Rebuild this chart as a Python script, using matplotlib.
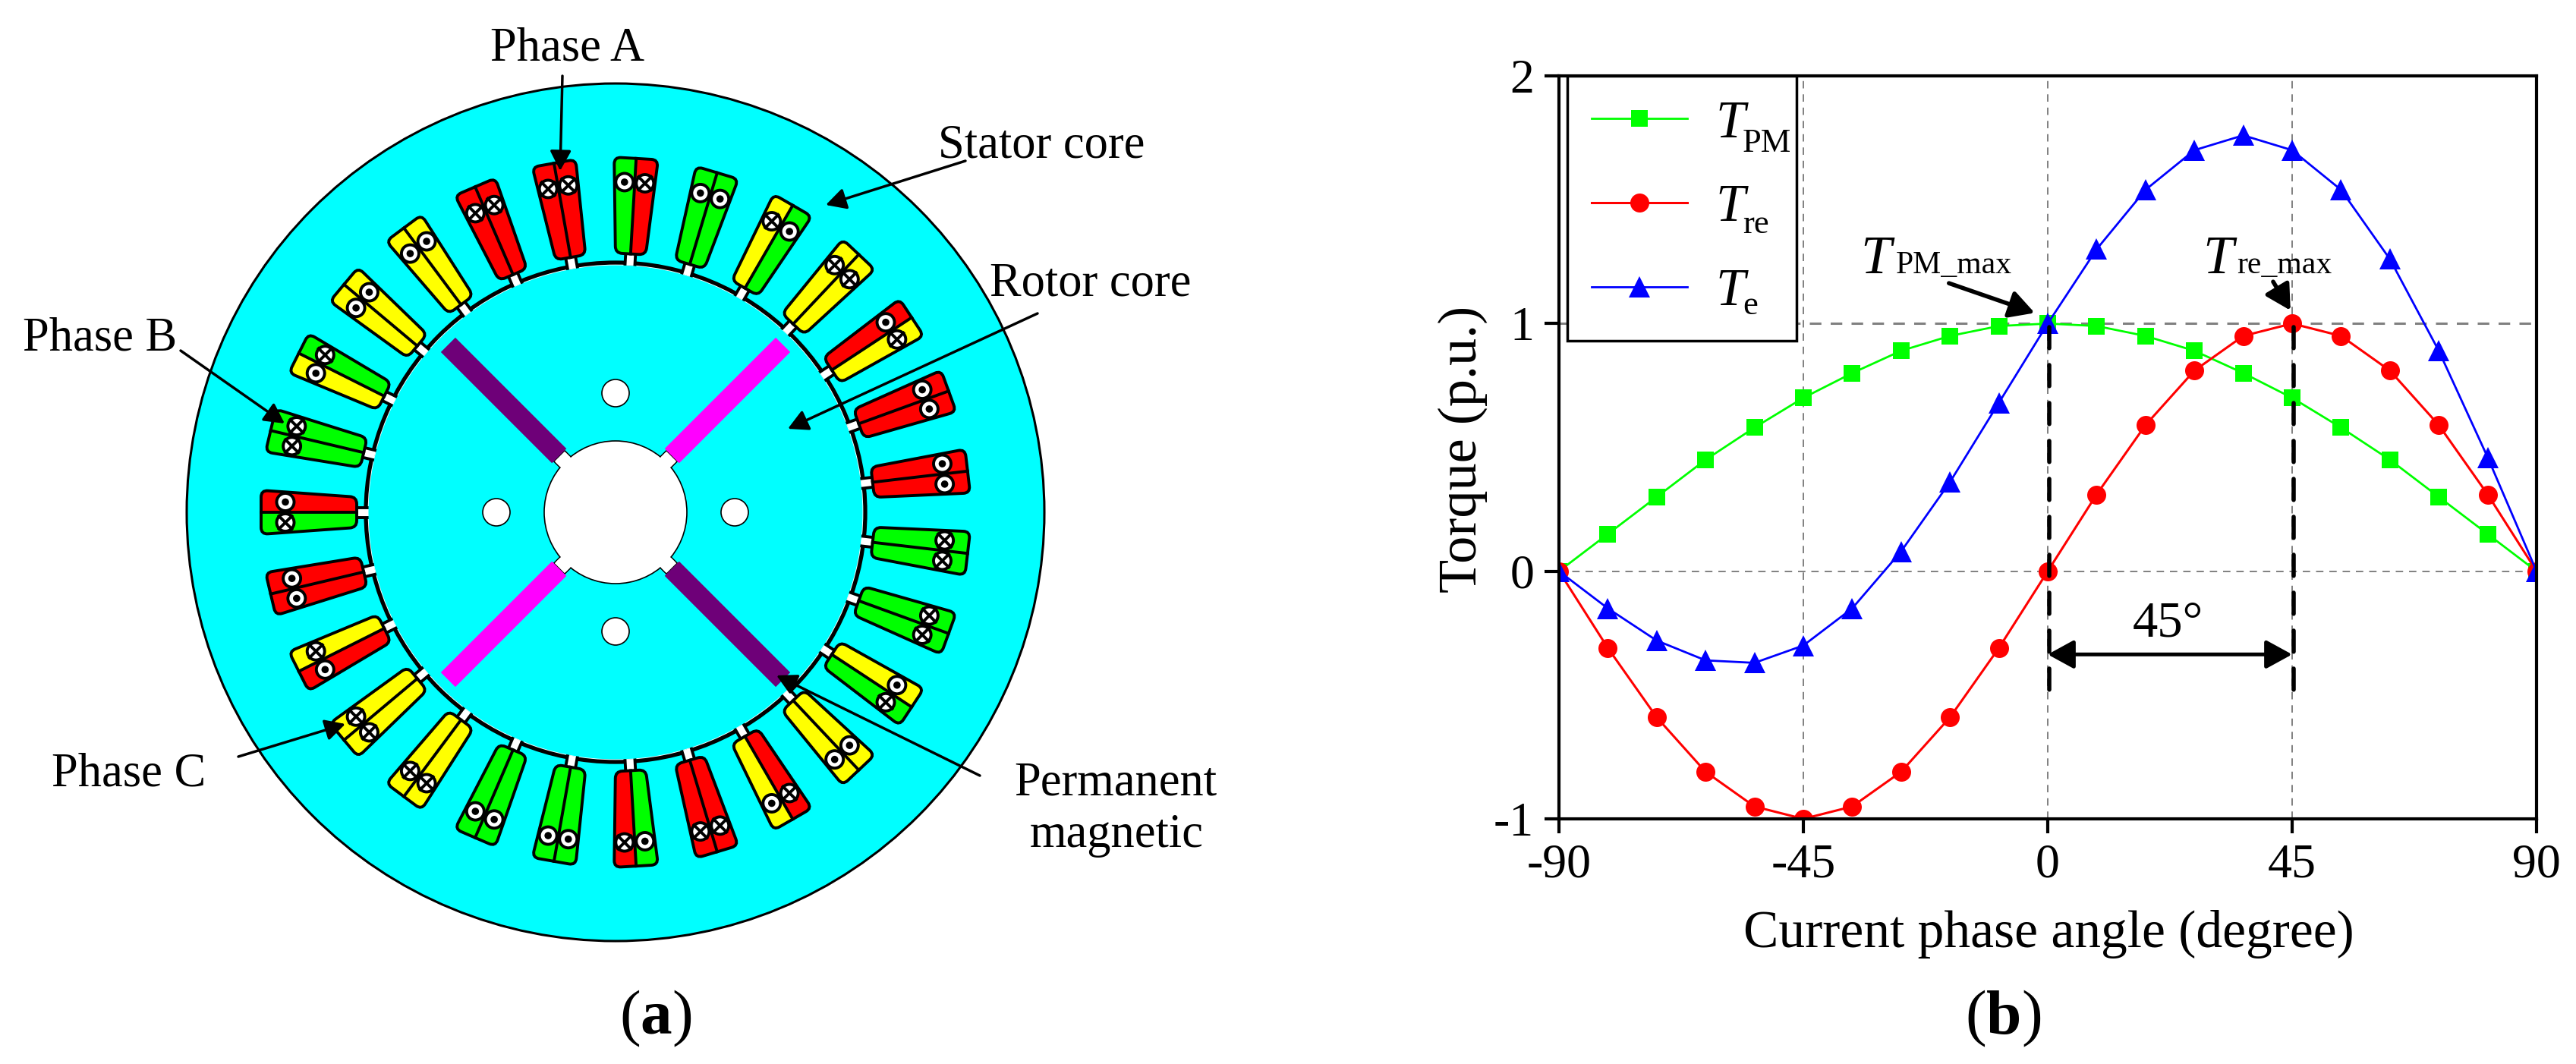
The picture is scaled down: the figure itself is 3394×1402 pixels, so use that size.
import numpy as np
import matplotlib
matplotlib.use("Agg")
import matplotlib.pyplot as plt
from matplotlib.path import Path
from matplotlib.patches import PathPatch, Circle, Polygon

plt.rcParams['font.family'] = ['Liberation Serif', 'DejaVu Serif']
plt.rcParams['mathtext.fontset'] = 'custom'
plt.rcParams['mathtext.rm'] = 'Liberation Serif'
plt.rcParams['mathtext.it'] = 'Liberation Serif:italic'
plt.rcParams['mathtext.bf'] = 'Liberation Serif:bold'

# torque curves
angle = [-90, -81, -72, -63, -54, -45, -36, -27, -18, -9, 0,
         9, 18, 27, 36, 45, 54, 63, 72, 81, 90]
t_pm = [0, 0.15, 0.30, 0.45, 0.58, 0.70, 0.80, 0.89, 0.95, 0.99, 1,
        0.99, 0.95, 0.89, 0.80, 0.70, 0.58, 0.45, 0.30, 0.15, 0]
t_re = [0, -0.31, -0.59, -0.81, -0.95, -1, -0.95, -0.81, -0.59, -0.31, 0,
        0.31, 0.59, 0.81, 0.95, 1, 0.95, 0.81, 0.59, 0.31, 0]
t_e = [0, -0.15, -0.28, -0.36, -0.37, -0.30, -0.15, 0.08, 0.36, 0.68, 1,
       1.30, 1.54, 1.70, 1.76, 1.70, 1.54, 1.26, 0.89, 0.46, 0]
x_ticks = [-90, -45, 0, 45, 90]
x_tick_labels = ['-90', '-45', '0', '45', '90']
y_ticks = [-1, 0, 1, 2]
y_tick_labels = ['-1', '0', '1', '2']

# stator slots, clockwise starting from the slot at 180 degrees
# each slot has a clockwise side and a counter clockwise side
slot_cw = ['R', 'G', 'G', 'Y', 'Y', 'R', 'R', 'R', 'G', 'G', 'Y', 'Y', 'R', 'R',
           'G', 'G', 'G', 'Y', 'Y', 'R', 'R', 'G', 'G', 'Y', 'Y', 'Y', 'R']
slot_ccw = ['G', 'G', 'Y', 'Y', 'Y', 'R', 'R', 'G', 'G', 'Y', 'Y', 'R', 'R', 'R',
            'G', 'G', 'Y', 'Y', 'R', 'R', 'G', 'G', 'G', 'Y', 'Y', 'R', 'R']
cond_cw = ['o', 'x', 'x', 'o', 'o', 'x', 'x', 'x', 'o', 'o', 'x', 'x', 'o', 'o',
           'x', 'x', 'x', 'o', 'o', 'x', 'x', 'o', 'o', 'x', 'x', 'x', 'o']
cond_ccw = ['x', 'x', 'o', 'o', 'o', 'x', 'x', 'o', 'o', 'x', 'x', 'o', 'o', 'o',
            'x', 'x', 'o', 'o', 'x', 'x', 'o', 'o', 'o', 'x', 'x', 'o', 'o']
phase_colors = {'R': '#ff0000', 'G': '#00ff00', 'Y': '#ffff00'}

cyan = '#00ffff'
magnet_colors = ['#ff00ff', '#6e0078', '#ff00ff', '#6e0078']
magnet_angles = [45, 135, 225, 315]

# sizes of the machine drawing, in pixels
cx, cy = 811, 675
r_stator = 565
r_gap = 329
r_rotor = 325.5
r_hub = 94
r_hole = 18
hole_dist = 157
lw_k = 2.8

fig = plt.figure(figsize=(33.94, 14.02), dpi=100)

# (a) machine cross section, drawn in pixel coordinates
ax0 = fig.add_axes([0, 0, 1, 1])
ax0.set_xlim(0, 3394)
ax0.set_ylim(1402, 0)
ax0.axis('off')


def pol(r, deg, side=0.0):
    # point at radius r along direction deg, moved sideways by side (clockwise +)
    a = np.deg2rad(deg)
    return (cx + r * np.cos(a) + side * np.sin(a),
            cy - r * np.sin(a) + side * np.cos(a))


def rounded(points, rad):
    verts, codes = [], []
    n = len(points)
    for i in range(n):
        p0 = np.array(points[i - 1])
        p1 = np.array(points[i])
        p2 = np.array(points[(i + 1) % n])
        a = p1 + (p0 - p1) / np.linalg.norm(p0 - p1) * rad
        b = p1 + (p2 - p1) / np.linalg.norm(p2 - p1) * rad
        verts += [a, p1, b]
        codes += [Path.MOVETO if i == 0 else Path.LINETO, Path.CURVE3, Path.CURVE3]
    verts.append(verts[0])
    codes.append(Path.CLOSEPOLY)
    return Path(verts, codes)


ax0.add_patch(Circle((cx, cy), r_stator, fc=cyan, ec='k', lw=2.2))
ax0.add_patch(Circle((cx, cy), r_gap, fc='white', ec='k', lw=3.8))

n_slots = len(slot_cw)
for i in range(n_slots):
    deg = 180 - i * 360 / n_slots
    # neck between slot and air gap
    ax0.add_patch(Polygon([pol(326, deg, -6.5), pol(345, deg, -6.5),
                           pol(345, deg, 6.5), pol(326, deg, 6.5)],
                          fc='white', ec='none', zorder=2))
    for s in (-6.5, 6.5):
        p, q = pol(326, deg, s), pol(345, deg, s)
        ax0.plot([p[0], q[0]], [p[1], q[1]], color='k', lw=lw_k, zorder=2)
    # slot body
    outline = rounded([pol(341, deg, -20), pol(467, deg, -29),
                       pol(467, deg, 29), pol(341, deg, 20)], 9)
    clip = PathPatch(outline, fc='white', ec='none', zorder=3)
    ax0.add_patch(clip)
    ccw_half = Polygon([pol(335, deg, 0), pol(475, deg, 0), pol(475, deg, -40), pol(335, deg, -40)],
                       fc=phase_colors[slot_ccw[i]], ec='none', zorder=3)
    cw_half = Polygon([pol(335, deg, 0), pol(475, deg, 0), pol(475, deg, 40), pol(335, deg, 40)],
                      fc=phase_colors[slot_cw[i]], ec='none', zorder=3)
    for half in (ccw_half, cw_half):
        ax0.add_patch(half)
        half.set_clip_path(clip)
    p, q = pol(341, deg), pol(467, deg)
    ax0.plot([p[0], q[0]], [p[1], q[1]], color='k', lw=lw_k, zorder=3)
    ax0.add_patch(PathPatch(outline, fc='none', ec='k', lw=lw_k, zorder=3))
    # conductors
    for side, kind in ((13.5, cond_cw[i]), (-13.5, cond_ccw[i])):
        c = pol(435, deg, side)
        ax0.add_patch(Circle(c, 11.5, fc='white', ec='k', lw=lw_k, zorder=4))
        if kind == 'o':
            ax0.add_patch(Circle(c, 4.8, fc='k', ec='none', zorder=4))
        else:
            d = 8.5
            ax0.plot([c[0] - d, c[0] + d], [c[1] - d, c[1] + d], color='k', lw=lw_k, zorder=4)
            ax0.plot([c[0] - d, c[0] + d], [c[1] + d, c[1] - d], color='k', lw=lw_k, zorder=4)

ax0.add_patch(Circle((cx, cy), r_rotor, fc=cyan, ec='none', zorder=5))

# hub notches, hub, magnets and holes
for deg in magnet_angles:
    ax0.add_patch(Polygon([pol(80, deg, -10), pol(105, deg, -10),
                           pol(105, deg, 10), pol(80, deg, 10)],
                          fc='white', ec='k', lw=1.2, zorder=5))
ax0.add_patch(Circle((cx, cy), r_hub, fc='white', ec='k', lw=1.2, zorder=5))
for deg, col in zip(magnet_angles, magnet_colors):
    ax0.add_patch(Polygon([pol(78, deg, -9.2), pol(103, deg, -9.2),
                           pol(103, deg, 9.2), pol(78, deg, 9.2)],
                          fc='white', ec='none', zorder=5))
    ax0.add_patch(Polygon([pol(105, deg, -13.5), pol(312, deg, -13.5),
                           pol(312, deg, 13.5), pol(105, deg, 13.5)],
                          fc=col, ec='none', zorder=5))
for deg in (0, 90, 180, 270):
    ax0.add_patch(Circle(pol(hole_dist, deg), r_hole, fc='white', ec='k', lw=1.2, zorder=5))

part_labels = [('Phase A', 748, 80), ('Stator core', 1372, 207), ('Rotor core', 1437, 390),
               ('Phase B', 132, 462), ('Phase C', 170, 1036),
               ('Permanent', 1470, 1047), ('magnetic', 1471, 1116)]
for txt, x, y in part_labels:
    ax0.text(x, y, txt, fontsize=45, ha='center', va='baseline', zorder=7)

part_arrows = [((741, 100), (738, 225)), ((1272, 212), (1088, 270)),
               ((1367, 413), (1038, 565)), ((238, 462), (375, 558)),
               ((314, 997), (455, 954)), ((1291, 1022), (1023, 890))]
for start, tip in part_arrows:
    ax0.annotate('', xy=tip, xytext=start, zorder=7,
                 arrowprops=dict(arrowstyle='-|>,head_length=16,head_width=8.5', mutation_scale=1,
                                 lw=2.5, color='k', shrinkA=0, shrinkB=0))

ax0.text(864, 1362, r'$(\mathbf{a})$', fontsize=60, ha='center', va='baseline')
ax0.text(2639, 1362, r'$(\mathbf{b})$', fontsize=60, ha='center', va='baseline')

# (b) torque against current phase angle
ax = fig.add_axes([2054 / 3394, 1 - 1079 / 1402, (3342 - 2054) / 3394, (1079 - 100) / 1402])
ax.set_xlim(-90, 90)
ax.set_ylim(-1, 2)
ax.set_xticks(x_ticks)
ax.set_xticklabels(x_tick_labels)
ax.set_yticks(y_ticks)
ax.set_yticklabels(y_tick_labels)
ax.tick_params(labelsize=46, width=3, length=13.5, pad=10, direction='out')
for s in ax.spines.values():
    s.set_linewidth(3)
ax.grid(True, color='#808080', lw=1.4, linestyle=(0, (5, 4)))
ax.get_ygridlines()[2].set_linewidth(2.2)
ax.set_axisbelow(True)

ax.plot(angle, t_pm, color='#00ff00', lw=2, marker='s', ms=16, mew=0, label='T')
ax.plot(angle, t_re, color='#ff0000', lw=2.2, marker='o', ms=18, mew=0, label='T')
ax.plot(angle, t_e, color='#0000ff', lw=2, marker='^', ms=20, mew=0, label='T')

ax.set_xlabel('Current phase angle (degree)', fontsize=50, va='baseline')
ax.xaxis.set_label_coords(0.501, -0.1726)
ax.set_ylabel('Torque (p.u.)', fontsize=52, va='center')
ax.yaxis.set_label_coords(-0.0986, 0.497)

leg = ax.legend(loc='upper left',
                bbox_to_anchor=((2065 - 2054) / 1288, (1079 - 427) / 979, 302 / 1288, 327 / 979),
                mode='expand', borderaxespad=0, prop=dict(size=50, style='italic'),
                fancybox=False, framealpha=1, edgecolor='k', handlelength=1.82,
                handletextpad=0.53, borderpad=0.46, labelspacing=0.68)
leg.get_frame().set_linewidth(2.5)
# the subscripts sit lower than mathtext would put them
for txt, y in zip(['PM', 're', 'e'], [1.693, 1.365, 1.037]):
    ax.text(-56.2, y, txt, fontsize=32, va='baseline', zorder=6)

# thick dashed markers for the two maxima
for x0 in (0, 45):
    ax.plot([x0 + 0.3, x0 + 0.3], [0.985, -0.49], color='k', lw=4, zorder=4,
            linestyle=(0, (5, 4)), dash_capstyle='round')

ax.annotate('', xy=(45, -0.336), xytext=(0, -0.336), zorder=5,
            arrowprops=dict(arrowstyle='<|-|>,head_length=21,head_width=11.5', mutation_scale=1,
                            lw=3.6, color='k', shrinkA=0, shrinkB=0))
ax.text(22.2, -0.262, '45°', fontsize=48, ha='center', va='baseline')

ax.annotate('', xy=(-2.4, 1.043), xytext=(-18.2, 1.163), zorder=5,
            arrowprops=dict(arrowstyle='-|>,head_length=20,head_width=11', mutation_scale=1,
                            lw=4, color='k', shrinkA=0, shrinkB=0))
ax.annotate('', xy=(44.7, 1.053), xytext=(41.5, 1.169), zorder=5,
            arrowprops=dict(arrowstyle='-|>,head_length=20,head_width=11', mutation_scale=1,
                            lw=4, color='k', shrinkA=0, shrinkB=0))
ax.text(-34.5, 1.203, 'T', fontsize=52, style='italic', va='baseline')
ax.text(-28.0, 1.203, 'PM_max', fontsize=30, va='baseline')
ax.text(28.6, 1.203, 'T', fontsize=52, style='italic', va='baseline')
ax.text(34.8, 1.203, 're_max', fontsize=30, va='baseline')

fig.savefig('out.png', dpi=100)
